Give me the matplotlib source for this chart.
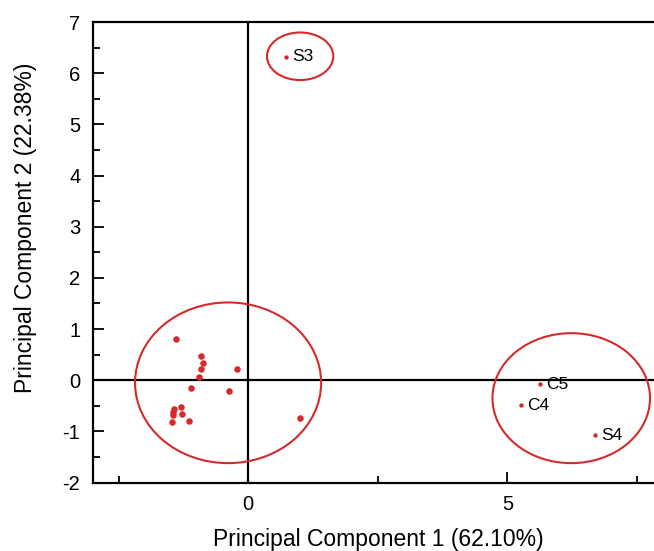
import numpy as np
import matplotlib
matplotlib.use("Agg")
import matplotlib.pyplot as plt
from matplotlib.patches import Ellipse
from matplotlib.ticker import MultipleLocator

plt.rcParams['font.family'] = ['Liberation Sans', 'DejaVu Sans']
plt.rcParams['axes.unicode_minus'] = False

# Unlabelled samples (left cluster)
pc1 = [-1.40, -0.91, -0.87, -0.92, -0.96, -0.21, -1.10, -0.37,
       -1.30, -1.43, -1.45, -1.27, -1.46, -1.15, -1.48, 0.99]
pc2 = [0.80, 0.47, 0.34, 0.22, 0.06, 0.22, -0.15, -0.21,
       -0.53, -0.57, -0.62, -0.65, -0.68, -0.79, -0.82, -0.74]

# Labelled samples
lab_names = ['S3', 'C5', 'C4', 'S4']
lab_pc1 = [0.73, 5.62, 5.26, 6.68]
lab_pc2 = [6.32, -0.08, -0.49, -1.07]

# Group ellipses: center x, center y, width, height
ell_cx = [-0.39, 6.23, 1.00]
ell_cy = [-0.05, -0.35, 6.33]
ell_w = [3.59, 3.04, 1.28]
ell_h = [3.14, 2.54, 0.93]

red = '#d42a2a'

fig = plt.figure(figsize=(6.54, 5.51), dpi=100)
ax = fig.add_axes([92.8 / 654, 1 - 482.6 / 551, (663 - 92.8) / 654, (482.6 - 22) / 551])

ax.axhline(0, color='black', lw=1.6, zorder=1)
ax.axvline(0, color='black', lw=1.6, zorder=1)

ax.scatter(pc1, pc2, s=22, color=red, zorder=3, linewidths=0)
ax.scatter(lab_pc1, lab_pc2, s=10, color=red, zorder=3, linewidths=0)
for name, x, y in zip(lab_names, lab_pc1, lab_pc2):
    ax.text(x + 0.12, y, name, fontsize=12.5, va='center', ha='left', zorder=4)

for cx, cy, w, h in zip(ell_cx, ell_cy, ell_w, ell_h):
    ax.add_patch(Ellipse((cx, cy), w, h, fill=False, edgecolor=red, lw=1.5, zorder=2))

ax.set_xlim(-3, 8)
ax.set_ylim(-2, 7)
ax.xaxis.set_major_locator(MultipleLocator(5))
ax.xaxis.set_minor_locator(MultipleLocator(2.5))
ax.yaxis.set_major_locator(MultipleLocator(1))
ax.yaxis.set_minor_locator(MultipleLocator(0.5))
ax.tick_params(which='both', direction='in', top=False, right=False, width=1.3)
ax.tick_params(which='major', length=8, labelsize=14.5)
ax.tick_params(axis='x', which='major', pad=9)
ax.tick_params(axis='y', which='major', pad=9)
ax.tick_params(which='minor', length=5)
for sp in ax.spines.values():
    sp.set_linewidth(1.6)

ax.set_xlabel('Principal Component 1 (62.10%)', fontsize=16.5)
ax.set_ylabel('Principal Component 2 (22.38%)', fontsize=16.5)
ax.xaxis.set_label_coords(0.5, -0.098)
ax.yaxis.set_label_coords(-0.097, 0.553)

fig.savefig('out.png', dpi=100)
